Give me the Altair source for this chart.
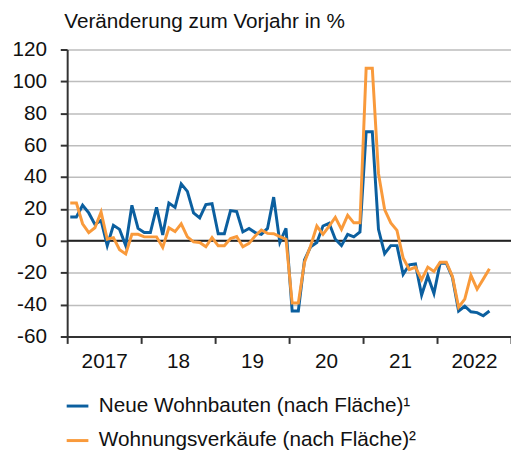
import altair as alt
import pandas as pd

# Monthly, Jan 2017 .. Sep 2022 (index 0..68)
neue_wohnbauten = [
    15, 15, 22.3, 17.5, 10.3, 12.8, -3, 9.7, 7.2, -3, 22.3, 7.8,
    5.2, 5.2, 21, 3.7, 23.7, 21, 35.7, 31, 17.5, 14.4, 22.7, 23.3,
    4.5, 4.5, 19, 18.4, 5.6, 7.8, 5.2, 4.1, 7.8, 27.4, -1, 7.8,
    -44, -44, -12, -3.7, -1, 9.3, 11, 1, -3, 4.1, 2.5, 5.6,
    68.4, 68.4, 7.2, -8, -3, -3, -21, -15, -14.5, -34, -22, -33,
    -14, -14, -23, -44, -41, -44.5, -45, -47, -44,
]
wohnungsverkaeufe = [
    23.7, 23.7, 10.7, 5.2, 8.2, 18.1, 1, 2, -5.6, -8.2, 4.1, 4.1,
    2.5, 2.5, 2.5, -4.1, 8.2, 5.8, 10.7, 2.5, -0.6, -1, -3.7, 2,
    -3.1, -3.1, 1.4, 2.7, -3.7, -1.6, 3.1, 6.8, 4.7, 4.5, 2.7, 1,
    -39, -39, -13.4, -3.1, 9.3, 4.1, 9.3, 14.8, 7.2, 16, 11.3, 11.3,
    108.2, 108.2, 42.3, 19.6, 11.3, 6.6, -10.7, -18, -16.5, -24.3, -16.5, -19.2,
    -13.4, -13.4, -22.3, -41.6, -36.5, -21.6, -30.3, -24, -17.5,
]
series_names = ["Neue Wohnbauten (nach Fläche)¹", "Wohnungsverkäufe (nach Fläche)²"]
series_colors = ["#0b5f9f", "#f99a3b"]
year_tick_labels = ["2017", "18", "19", "20", "21", "2022", ""]
y_ticks = [-60, -40, -20, 0, 20, 40, 60, 80, 100, 120]
title_text = "Veränderung zum Vorjahr in %"

rows = []
for name, vals in zip(series_names, [neue_wohnbauten, wohnungsverkaeufe]):
    for i, v in enumerate(vals):
        rows.append({"t": i + 0.5, "wert": v, "serie": name})
df = pd.DataFrame(rows)

label_map = "{" + ",".join(f"'{12*k}':'{lab}'" for k, lab in enumerate(year_tick_labels)) + "}"

FONT = "Liberation Sans"

x = alt.X(
    "t:Q",
    scale=alt.Scale(domain=[0, 72], nice=False, zero=False),
    axis=alt.Axis(
        values=[0, 12, 24, 36, 48, 60, 72],
        tickCount=20,
        labelExpr=f"{label_map}[toString(datum.value)]",
        labelOffset=37.5,
        labelFlush=False,
        labelOverlap=False,
        labelBound=False,
        grid=False,
        tickSize=7,
        tickWidth=2,
        tickColor="#333333",
        domainColor="#333333",
        domainWidth=2,
        labelFontSize=21,
        labelFont=FONT,
        labelColor="#111111",
        labelPadding=7,
        title=None,
    ),
)
y = alt.Y(
    "wert:Q",
    scale=alt.Scale(domain=[-60, 120], nice=False),
    axis=alt.Axis(
        values=y_ticks,
        tickCount=20,
        labelExpr="toString(datum.value)",
        labelOverlap=False,
        labelFlush=False,
        labelBound=False,
        grid=True,
        gridColor="#bdbdbd",
        gridWidth=1.5,
        tickSize=7,
        tickWidth=2,
        tickColor="#333333",
        domainColor="#333333",
        domainWidth=2,
        labelFontSize=21,
        labelFont=FONT,
        labelColor="#111111",
        labelPadding=14,
        title=None,
    ),
)

lines = alt.Chart(df).mark_line(strokeWidth=3, strokeJoin="miter").encode(
    x=x,
    y=y,
    color=alt.Color(
        "serie:N",
        scale=alt.Scale(domain=series_names, range=series_colors),
        legend=alt.Legend(
            title=None,
            orient="none",
            legendX=-2,
            legendY=349,
            direction="vertical",
            symbolType="stroke",
            symbolSize=484,
            symbolStrokeWidth=3,
            labelFontSize=21,
            labelFont=FONT,
            labelColor="#111111",
            labelOffset=9,
            rowPadding=12,
            labelLimit=0,
        ),
    ),
)

zero = alt.Chart().mark_rule(color="#222222", strokeWidth=2).encode(y=alt.datum(0))

chart = (
    alt.layer(zero, lines)
    .properties(
        width=450,
        height=291,
        autosize=alt.AutoSizeParams(type="none"),
        padding={"left": 60, "top": 39, "right": 0, "bottom": 114},
        title=alt.TitleParams(
            title_text,
            anchor="start",
            frame="group",
            font=FONT,
            fontSize=21,
            fontWeight="normal",
            color="#111111",
            dx=-3,
            offset=7,
        ),
    )
    .configure_view(stroke=None)
)

chart.save("out.html", embed_options={"renderer": "svg", "actions": False})
